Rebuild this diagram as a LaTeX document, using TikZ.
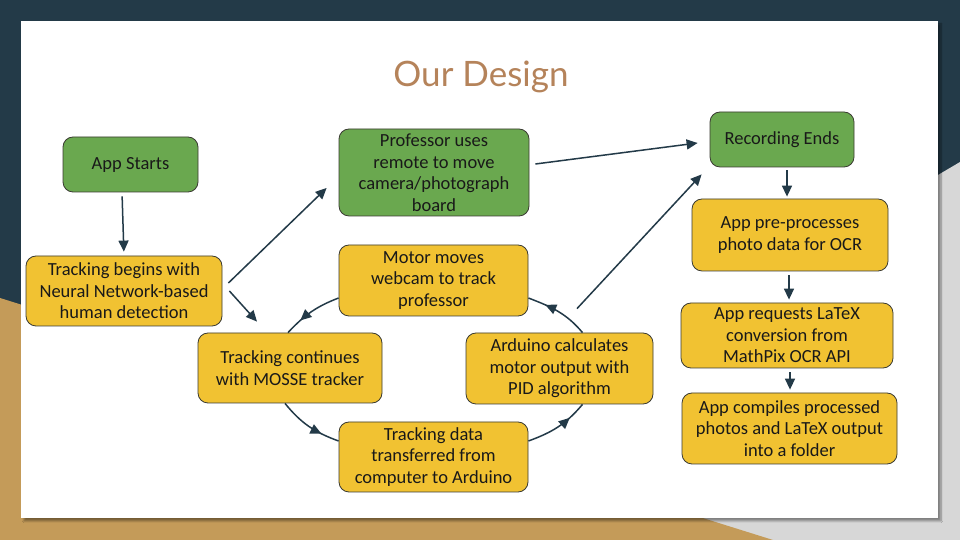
\documentclass[tikz,border=0pt]{standalone}
\usepackage{fontspec}
\setmainfont{Carlito}
\newfontfamily\titlefont{Lato}
\usetikzlibrary{arrows.meta,decorations.markings,shadows.blur}
\definecolor{navy}{HTML}{233A48}
\definecolor{tan}{HTML}{C49B59}
\definecolor{lgray}{HTML}{D7D7D7}
\definecolor{gStep}{HTML}{6AA84F}
\definecolor{yStep}{HTML}{F1C232}
\definecolor{edge}{HTML}{3A3A32}
\definecolor{titlec}{HTML}{B5835A}

\begin{document}
\begin{tikzpicture}[x=1pt,y=1pt,
  box/.style={draw=edge,line width=0.8pt,rounded corners=10pt,align=center,inner sep=2pt,
    text=black!90,font=\fontsize{18.5}{21.5}\selectfont},
  gbox/.style={box,fill=gStep},
  ybox/.style={box,fill=yStep},
  wire/.style={-{Triangle[length=11pt,width=10pt]},line width=1.5pt,draw=navy},
  loopwire/.style={line width=1.5pt,draw=navy,
    decoration={markings,mark=at position 0.72 with {\arrow[navy]{Triangle[length=11pt,width=10pt]}}},
    postaction={decorate}}]
\useasboundingbox (0,0) rectangle (960,540);
% slide background
\fill[navy] (0,0) rectangle (960,540);
\fill[lgray] (960,378) -- (320,0) -- (960,0) -- cycle;
\fill[tan] (0,242) -- (773,0) -- (0,0) -- cycle;
\fill[white,blur shadow={shadow xshift=3pt,shadow yshift=-3pt,shadow blur steps=8,shadow opacity=40}] (21,22) rectangle (938,519);
\node[font=\titlefont\fontsize{35}{40}\selectfont,text=titlec] (title) at (481,463) {Our Design};
% left column
\node[gbox,minimum width=135pt,minimum height=55pt] (start) at (130.5,375.5) {App Starts};
\node[ybox,minimum width=196pt,minimum height=70pt] (begins) at (124,249) {Tracking begins with\\Neural Network-based\\human detection};
\draw[wire,shorten <=4pt,shorten >=4pt] ([xshift=-8.5pt]start.south) -- (begins.north);
% tracking loop
\node[gbox,minimum width=190pt,minimum height=87pt] (prof) at (434,367.5) {Professor uses\\remote to move\\camera/photograph\\board};
\node[ybox,minimum width=189pt,minimum height=71pt] (motor) at (433.5,259.5) {Motor moves\\webcam to track\\professor};
\node[ybox,minimum width=184pt,minimum height=70pt] (cont) at (290,172) {Tracking continues\\with MOSSE tracker};
\node[ybox,minimum width=187pt,minimum height=71pt] (ard) at (559.5,171.5) {Arduino calculates\\motor output with\\PID algorithm};
\node[ybox,minimum width=189pt,minimum height=70pt] (data) at (433.5,83) {Tracking data\\transferred from\\computer to Arduino};
\draw[wire] ([xshift=6pt,yshift=8pt]begins.east) -- ([xshift=-12pt,yshift=-15.5pt]prof.west);
\draw[wire] ([xshift=7pt]begins.east) -- ([xshift=-33pt,yshift=11pt]cont.north);
\draw[loopwire] ([yshift=-17.5pt]motor.west) to[out=201,in=47] ([xshift=-2pt]cont.north);
\draw[loopwire] ([xshift=-5pt]cont.south) to[out=309,in=160] ([yshift=16pt]data.west);
\draw[loopwire] ([yshift=16pt]data.east) to[out=20,in=230] ([xshift=23pt]ard.south);
\draw[loopwire] ([xshift=23pt]ard.north) to[out=130,in=339] ([yshift=-17.5pt]motor.east);
% right column
\node[gbox,minimum width=144pt,minimum height=55pt] (rec) at (782,400.5) {Recording Ends};
\node[ybox,minimum width=196pt,minimum height=72pt] (pre) at (790,305) {App pre-processes\\photo data for OCR};
\node[ybox,minimum width=212pt,minimum height=65pt] (req) at (787,204.5) {App requests LaTeX\\conversion from\\MathPix OCR API};
\node[ybox,minimum width=215pt,minimum height=71pt] (comp) at (789.5,111.5) {App compiles processed\\photos and LaTeX output\\into a folder};
\draw[wire] ([xshift=6pt,yshift=8.5pt]prof.east) -- ([xshift=-12pt,yshift=-3.5pt]rec.west);
\draw[wire] ([xshift=17.5pt,yshift=24pt]ard.north) -- ([xshift=-8pt,yshift=-7pt]rec.south west);
\draw[wire,shorten <=3pt,shorten >=2pt] ([xshift=5pt]rec.south) -- ([xshift=5pt]rec.south |- pre.north);
\draw[wire,shorten <=4pt,shorten >=3pt] ([xshift=-1pt]pre.south) -- ([xshift=-1pt]pre.south |- req.north);
\draw[wire,shorten <=4pt,shorten >=3pt] ([xshift=3pt]req.south) -- ([xshift=3pt]req.south |- comp.north);
\end{tikzpicture}
\end{document}
